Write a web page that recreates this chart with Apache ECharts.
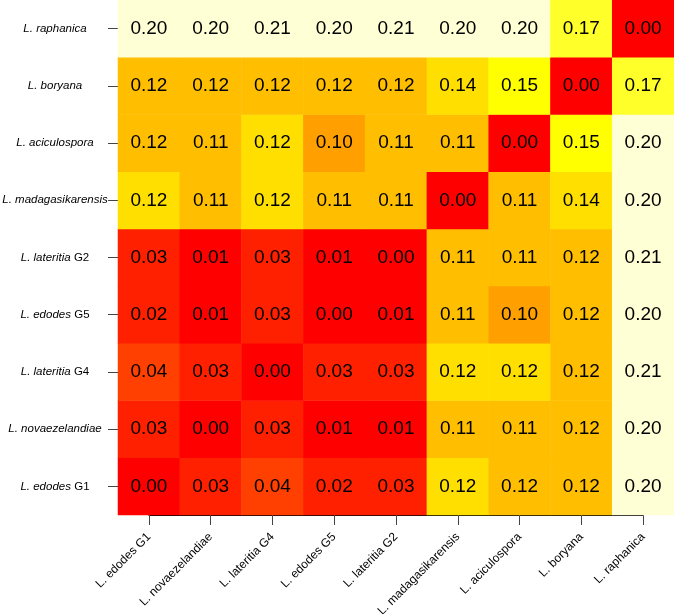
<!DOCTYPE html>
<html>
<head>
<meta charset="utf-8">
<script src="https://cdn.jsdelivr.net/npm/echarts@6/dist/echarts.min.js"></script>
<style>
html,body{margin:0;padding:0;background:#fff;}
#chart{width:674px;height:614px;}
</style>
</head>
<body>
<div id="chart"></div>
<script>
// Taxa, in axis order (x: left to right, y: bottom to top)
const taxa = ["L. edodes G1", "L. novaezelandiae", "L. lateritia G4", "L. edodes G5", "L. lateritia G2",
  "L. madagasikarensis", "L. aciculospora", "L. boryana", "L. raphanica"];

// Pairwise distances, one row per taxon (columns in the same order as taxa)
const rowEdodesG1         = [0.00, 0.03, 0.04, 0.02, 0.03, 0.124, 0.12, 0.12, 0.20];
const rowNovaezelandiae   = [0.03, 0.00, 0.03, 0.01, 0.01, 0.11, 0.11, 0.12, 0.20];
const rowLateritiaG4      = [0.04, 0.03, 0.00, 0.03, 0.03, 0.124, 0.124, 0.12, 0.21];
const rowEdodesG5         = [0.02, 0.01, 0.03, 0.00, 0.01, 0.11, 0.10, 0.12, 0.20];
const rowLateritiaG2      = [0.03, 0.01, 0.03, 0.01, 0.00, 0.11, 0.11, 0.12, 0.21];
const rowMadagasikarensis = [0.124, 0.11, 0.124, 0.11, 0.11, 0.00, 0.11, 0.139, 0.20];
const rowAciculospora     = [0.12, 0.11, 0.124, 0.10, 0.11, 0.11, 0.00, 0.15, 0.20];
const rowBoryana          = [0.12, 0.12, 0.12, 0.12, 0.12, 0.139, 0.15, 0.00, 0.17];
const rowRaphanica        = [0.20, 0.20, 0.21, 0.20, 0.21, 0.20, 0.20, 0.17, 0.00];

const rows = [rowEdodesG1, rowNovaezelandiae, rowLateritiaG4, rowEdodesG5, rowLateritiaG2,
  rowMadagasikarensis, rowAciculospora, rowBoryana, rowRaphanica];

// Colour scale (R heat.colors(12)) over 0 .. 0.21
const heatColors = ["#FF0000","#FF2000","#FF4000","#FF6000","#FF8000","#FF9F00",
  "#FFBF00","#FFDF00","#FFFF00","#FFFF2A","#FFFF80","#FFFFD5"];
const scaleMin = 0, scaleMax = 0.21;

const data = [];
rows.forEach((r, yi) => r.forEach((v, xi) => data.push([xi, yi, v])));

const step = (scaleMax - scaleMin) / heatColors.length;
const pieces = heatColors.map((c, i) => {
  const p = { color: c, gte: scaleMin + i * step };
  if (i < heatColors.length - 1) p.lt = scaleMin + (i + 1) * step; else p.lte = scaleMax + 1;
  return p;
});

const FONT = '"Liberation Sans", Arial, Helvetica, sans-serif';

function richName(name) {
  const m = name.match(/^(.*) (G\d)$/);
  if (m) return '{it|' + m[1] + '} {up|' + m[2] + '}';
  return '{it|' + name + '}';
}

const chart = echarts.init(document.getElementById('chart'), null, { renderer: 'canvas' });

const W = 674, H = 614;
const gl = 118, gr = 0, gt = 0, gb = 99;
const cw = (W - gl - gr) / taxa.length;
const ch = (H - gt - gb) / taxa.length;

chart.setOption({
  animation: false,
  backgroundColor: '#ffffff',
  grid: [
    { left: gl, right: gr, top: gt, bottom: gb, outerBoundsMode: 'none', containLabel: false },
    { left: gl + cw / 2, right: gr + cw / 2, top: gt + ch / 2, bottom: gb + ch / 2,
      outerBoundsMode: 'none', containLabel: false }
  ],
  xAxis: [
    { type: 'category', gridIndex: 0, data: taxa, show: false },
    {
      type: 'category', gridIndex: 1, data: taxa, boundaryGap: false,
      offset: ch / 2,
      axisLine: { show: true, lineStyle: { color: '#000', width: 1 } },
      axisTick: { show: true, length: 10, lineStyle: { color: '#444', width: 1 } },
      axisLabel: {
        rotate: 45, margin: 20, interval: 0,
        fontFamily: FONT, fontSize: 12, color: '#000'
      },
      splitLine: { show: false }
    }
  ],
  yAxis: [
    { type: 'category', gridIndex: 0, data: taxa, show: false },
    {
      type: 'category', gridIndex: 1, data: taxa, boundaryGap: false,
      offset: cw / 2,
      axisLine: { show: true, lineStyle: { color: '#000', width: 1 } },
      axisTick: { show: true, length: 10, lineStyle: { color: '#444', width: 1 } },
      axisLabel: {
        margin: 63, interval: 0, align: 'center', verticalAlign: 'middle',
        formatter: v => richName(v),
        rich: {
          it: { fontFamily: FONT, fontSize: 11.5, fontStyle: 'italic', color: '#000' },
          up: { fontFamily: FONT, fontSize: 11.5, color: '#000' }
        }
      },
      splitLine: { show: false }
    }
  ],
  visualMap: {
    type: 'piecewise', show: false, dimension: 2, seriesIndex: 0,
    pieces: pieces
  },
  series: [
    {
      type: 'heatmap', xAxisIndex: 0, yAxisIndex: 0,
      data: data,
      itemStyle: { borderWidth: 0 },
      label: {
        show: true,
        formatter: p => p.value[2].toFixed(2),
        fontFamily: FONT, fontSize: 19, color: '#000'
      },
      emphasis: { disabled: true }
    },
    {
      type: 'scatter', xAxisIndex: 1, yAxisIndex: 1, data: [], silent: true
    }
  ]
});
</script>
</body>
</html>
